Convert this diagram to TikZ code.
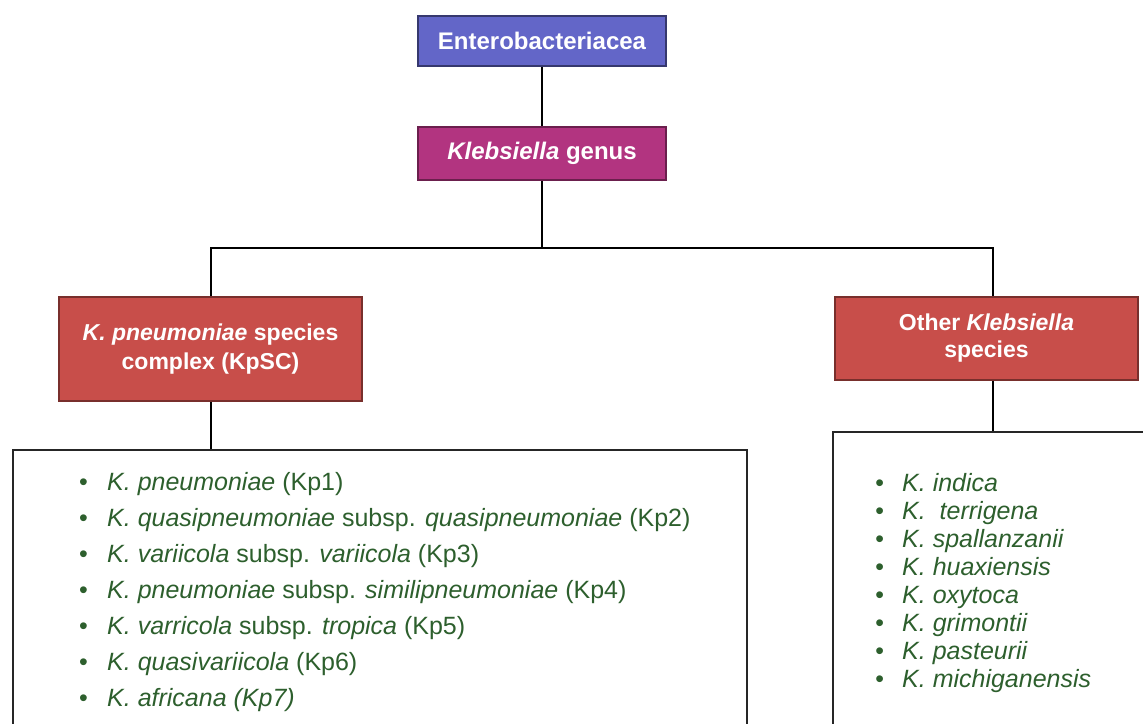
\documentclass[tikz,border=0pt]{standalone}
\usepackage{fontspec}
\setmainfont{Liberation Sans}
\usetikzlibrary{positioning}
\definecolor{enteroblue}{RGB}{99,102,200}
\definecolor{genusmagenta}{RGB}{178,52,128}
\definecolor{groupred}{RGB}{200,78,74}
\definecolor{listgreen}{RGB}{45,95,45}
\newcommand{\kpitem}{\makebox[28pt][l]{\fontsize{25pt}{25pt}\selectfont\textbullet}}
\newcommand{\otheritem}{\makebox[27pt][l]{\fontsize{25pt}{25pt}\selectfont\textbullet}}
\begin{document}
\begin{tikzpicture}[x=1pt, y=-1pt,
        headbox/.style={draw, line width=1.5pt, minimum width=248pt, text=white, font=\fontsize{24pt}{29pt}\selectfont\bfseries, align=center},
        groupbox/.style={draw=groupred!60!black, fill=groupred, line width=1.5pt, minimum width=303pt, text=white, align=center},
        listbox/.style={draw=black!85, line width=2pt, anchor=north west},
        items/.style={anchor=base west, inner sep=0pt, text=listgreen, align=left},
        link/.style={line width=2pt}]
    \useasboundingbox (0,0) rectangle (1143,723);
    % taxonomy boxes
    \node[headbox, draw=enteroblue!55!black, fill=enteroblue, minimum height=50pt] (entero) at (542,41) {Enterobacteriacea};
    \node[headbox, draw=genusmagenta!60!black, fill=genusmagenta, minimum height=53pt] (genus) at (542,153.5) {\textit{Klebsiella} genus};
    \node[groupbox, minimum height=104pt, font=\fontsize{23pt}{29pt}\selectfont\bfseries] (kpsc) at (210.5,349) {\textit{K. pneumoniae} species\\complex (KpSC)};
    \node[groupbox, minimum height=83pt, font=\fontsize{23pt}{27pt}\selectfont\bfseries] (other) at (986.5,338.5) {Other \textit{Klebsiella}\\species};
    \node[listbox, minimum width=734pt, minimum height=300pt] (kpbox) at (12,449) {};
    \node[listbox, minimum width=330pt, minimum height=320pt] (otherbox) at (832,431) {};
    \coordinate (split) at (542,248);
    % connectors
    \draw[link] (entero) -- (genus);
    \draw[link] (genus) -- (split);
    \draw[link] (kpsc.north) |- (split) -| ([xshift=6.5pt]other.north);
    \draw[link] (kpsc.south) -- (kpsc.south |- kpbox.north);
    \draw[link] ([xshift=6.5pt]other.south) -- ([xshift=6.5pt]other.south |- otherbox.north);
    % species lists (base anchor sits on the last line)
    \node[items, font=\fontsize{25pt}{36pt}\selectfont] (kplist) at (79,706) {
        \kpitem\textit{K. pneumoniae} (Kp1)\\
        \kpitem\textit{K. quasipneumoniae} subsp. \textit{quasipneumoniae} (Kp2)\\
        \kpitem\textit{K. variicola} subsp. \textit{variicola} (Kp3)\\
        \kpitem\textit{K. pneumoniae} subsp. \textit{similipneumoniae} (Kp4)\\
        \kpitem\textit{K. varricola} subsp. \textit{tropica} (Kp5)\\
        \kpitem\textit{K. quasivariicola} (Kp6)\\
        \kpitem\textit{K. africana (Kp7)}
    };
    \node[items, font=\fontsize{25pt}{28pt}\selectfont\itshape] (otherlist) at (875,687) {
        \otheritem K. indica\\
        \otheritem K.~ terrigena\\
        \otheritem K. spallanzanii\\
        \otheritem K. huaxiensis\\
        \otheritem K. oxytoca\\
        \otheritem K. grimontii\\
        \otheritem K. pasteurii\\
        \otheritem K. michiganensis
    };
\end{tikzpicture}
\end{document}
